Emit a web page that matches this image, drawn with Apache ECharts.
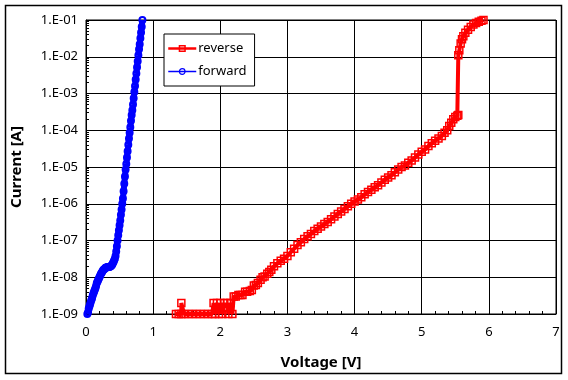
<!DOCTYPE html>
<html>
<head>
<meta charset="utf-8">
<script src="https://cdn.jsdelivr.net/npm/echarts@6/dist/echarts.min.js"></script>
<style>
html,body{margin:0;padding:0;background:#fff;}
#chart{width:568px;height:380px;}
</style>
</head>
<body>
<div id="chart"></div>
<script>
// forward: [voltage V, current A]
const forwardV = [0.02,0.03,0.04,0.05,0.06,0.07,0.08,0.09,0.10,0.11,0.12,0.13,0.14,0.15,0.16,0.17,0.18,0.19,0.20,0.21,0.22,0.23,0.24,0.25,0.26,0.27,0.28,0.29,0.30,0.31,0.32,0.33,0.34,0.35,0.36,0.37,0.38,0.39,0.40,0.41,0.42,0.43,0.44,0.45,0.46,0.47,0.48,0.49,0.50,0.51,0.52,0.53,0.54,0.55,0.56,0.57,0.58,0.59,0.60,0.61,0.62,0.63,0.64,0.65,0.66,0.67,0.68,0.69,0.70,0.71,0.72,0.73,0.74,0.75,0.76,0.77,0.78,0.79,0.80,0.81,0.82,0.83,0.84];
const forwardI = [1.0e-9,1.1e-9,1.4e-9,1.6e-9,1.8e-9,2.1e-9,2.4e-9,2.7e-9,3.2e-9,3.6e-9,4.0e-9,4.5e-9,5.0e-9,5.8e-9,6.9e-9,7.6e-9,8.3e-9,9.1e-9,1.0e-8,1.1e-8,1.2e-8,1.3e-8,1.4e-8,1.5e-8,1.6e-8,1.65e-8,1.7e-8,1.8e-8,1.85e-8,1.85e-8,1.9e-8,1.9e-8,1.9e-8,1.9e-8,1.95e-8,2.0e-8,2.1e-8,2.2e-8,2.4e-8,2.6e-8,2.9e-8,3.2e-8,3.8e-8,5.0e-8,7.0e-8,1.0e-7,1.4e-7,1.9e-7,2.6e-7,3.5e-7,5.0e-7,7.0e-7,1.0e-6,1.4e-6,2.2e-6,3.5e-6,5.5e-6,8.5e-6,1.2e-5,1.8e-5,2.7e-5,4.0e-5,6.0e-5,8.5e-5,1.2e-4,1.8e-4,2.6e-4,3.5e-4,5.0e-4,7.4e-4,1.1e-3,1.6e-3,2.4e-3,3.5e-3,5.2e-3,7.6e-3,1.1e-2,1.6e-2,2.2e-2,3.2e-2,4.6e-2,6.6e-2,1.0e-1];

// reverse: [voltage V, current A]
const reverseV = [1.34,1.38,1.42,1.42,1.46,1.52,1.58,1.64,1.70,1.76,1.82,1.88,1.90,1.92,1.95,1.98,2.00,2.03,2.06,2.08,2.10,2.12,2.15,2.18,2.20,2.23,2.27,2.30,2.33,2.37,2.40,2.44,2.47,2.50,2.53,2.56,2.60,2.63,2.66,2.70,2.73,2.76,2.80,2.85,2.90,2.95,3.00,3.05,3.10,3.15,3.20,3.25,3.30,3.35,3.40,3.45,3.50,3.55,3.60,3.65,3.70,3.75,3.80,3.85,3.90,3.95,4.00,4.05,4.10,4.15,4.20,4.25,4.30,4.35,4.40,4.45,4.50,4.55,4.60,4.65,4.70,4.75,4.80,4.85,4.90,4.95,5.00,5.05,5.10,5.15,5.20,5.25,5.30,5.34,5.38,5.41,5.44,5.47,5.50,5.53,5.545,5.545,5.56,5.58,5.60,5.62,5.65,5.69,5.73,5.77,5.81,5.85,5.89,5.92];
const reverseI = [1e-9,1e-9,1e-9,2e-9,1e-9,1e-9,1e-9,1e-9,1e-9,1e-9,1e-9,1e-9,2e-9,1e-9,2e-9,1e-9,2e-9,1e-9,2e-9,1.5e-9,2e-9,1e-9,2e-9,1e-9,3e-9,3e-9,3.3e-9,3.3e-9,3.3e-9,4e-9,4e-9,4.2e-9,4.5e-9,6e-9,6.2e-9,7e-9,8.5e-9,1.0e-8,1.05e-8,1.25e-8,1.4e-8,1.6e-8,2.0e-8,2.4e-8,2.8e-8,3.2e-8,3.8e-8,4.8e-8,6.0e-8,7.5e-8,9.0e-8,1.1e-7,1.3e-7,1.5e-7,1.8e-7,2.1e-7,2.4e-7,2.8e-7,3.2e-7,3.8e-7,4.5e-7,5.3e-7,6.2e-7,7.2e-7,8.5e-7,1.0e-6,1.15e-6,1.3e-6,1.5e-6,1.8e-6,2.1e-6,2.4e-6,2.8e-6,3.2e-6,3.8e-6,4.5e-6,5.2e-6,6.0e-6,7.2e-6,8.5e-6,1.0e-5,1.1e-5,1.3e-5,1.5e-5,1.8e-5,2.2e-5,2.6e-5,3.0e-5,3.7e-5,4.4e-5,5.2e-5,6.0e-5,7.0e-5,8.5e-5,1.0e-4,1.3e-4,1.6e-4,2.0e-4,2.3e-4,2.5e-4,2.6e-4,1.1e-2,1.5e-2,2.3e-2,3.0e-2,3.6e-2,4.5e-2,5.4e-2,6.5e-2,7.5e-2,8.3e-2,9.0e-2,9.6e-2,1.0e-1];

const yTickLabels = ['1.E-09','1.E-08','1.E-07','1.E-06','1.E-05','1.E-04','1.E-03','1.E-02','1.E-01'];
const xTicks = [0,1,2,3,4,5,6,7];

const fwd = forwardV.map((v,i)=>[v, forwardI[i]]);
const rev = reverseV.map((v,i)=>[v, reverseI[i]]);

const FONT = 'Noto Sans';
const chart = echarts.init(document.getElementById('chart'), null, {renderer:'canvas'});
chart.setOption({
  animation:false,
  backgroundColor:'#fff',
  textStyle:{fontFamily:FONT},
  grid:{left:86, right:12, top:20, bottom:66, show:true, borderColor:'#000', borderWidth:1},
  graphic:[{type:'rect', shape:{x:5.5,y:5.5,width:556,height:368}, style:{fill:null, stroke:'#000', lineWidth:1.5}, z:-1}],
  legend:{
    orient:'vertical', left:164, top:34,
    backgroundColor:'#fff', borderColor:'#000', borderWidth:1,
    padding:[8,8,8,3], itemGap:10, itemWidth:28, itemHeight:7,
    textStyle:{fontFamily:FONT, fontSize:13, color:'#000', padding:[0,0,0,-3]},
    data:[
      {name:'reverse', itemStyle:{color:'rgba(255,255,255,0)', borderColor:'#ff0000', borderWidth:1.5}, lineStyle:{width:2.5}},
      {name:'forward', itemStyle:{color:'rgba(255,255,255,0)', borderColor:'#0000ff', borderWidth:1.2}, lineStyle:{width:1.5}}
    ]
  },
  xAxis:{
    type:'value', min:0, max:7, interval:1,
    name:'Voltage [V]', nameLocation:'middle', nameGap:41,
    nameTextStyle:{fontFamily:FONT, fontSize:15, fontWeight:'bold', color:'#000'},
    axisLine:{onZero:false, lineStyle:{color:'#000', width:1}},
    axisTick:{show:true, inside:true, length:5, lineStyle:{color:'#000'}},
    minorTick:{show:true, splitNumber:5, length:3, lineStyle:{color:'#000'}},
    axisLabel:{fontFamily:FONT, fontSize:13, color:'#000', margin:12, formatter:(v)=>String(xTicks[Math.round(v)])},
    splitLine:{show:true, lineStyle:{color:'#000', width:1}}
  },
  yAxis:{
    type:'log', logBase:10, min:1e-9, max:1e-1,
    name:'Current [A]', nameLocation:'middle', nameGap:62,
    nameTextStyle:{fontFamily:FONT, fontSize:15, fontWeight:'bold', color:'#000'},
    axisLine:{show:true, lineStyle:{color:'#000', width:1}},
    axisTick:{show:true, inside:true, length:5, lineStyle:{color:'#000'}},
    minorTick:{show:true, splitNumber:9, length:3, lineStyle:{color:'#000'}},
    axisLabel:{fontFamily:FONT, fontSize:13, color:'#000', margin:8,
      formatter:(v)=>{const e=Math.round(Math.log10(v)); return yTickLabels[e+9];}},
    splitLine:{show:true, lineStyle:{color:'#000', width:1}}
  },
  series:[
    {name:'reverse', type:'line', data:rev, color:'#ff0000', clip:false,
     symbol:'rect', symbolSize:7, showAllSymbol:true,
     itemStyle:{color:'rgba(255,255,255,0)', borderColor:'#ff0000', borderWidth:1.5},
     lineStyle:{color:'#ff0000', width:4}},
    {name:'forward', type:'line', data:fwd, color:'#0000ff', clip:false,
     symbol:'circle', symbolSize:6, showAllSymbol:true,
     itemStyle:{color:'rgba(255,255,255,0)', borderColor:'#0000ff', borderWidth:2},
     lineStyle:{color:'#0000ff', width:6}}
  ]
});
</script>
</body>
</html>
